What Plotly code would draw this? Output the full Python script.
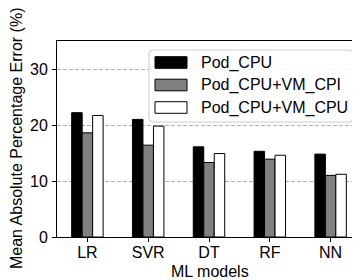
import plotly.graph_objects as go

models = ["LR", "SVR", "DT", "RF", "NN"]
series_names = ["Pod_CPU", "Pod_CPU+VM_CPI", "Pod_CPU+VM_CPU"]
pod_cpu = [22.2, 21.0, 16.1, 15.3, 14.8]
pod_cpu_vm_cpi = [18.6, 16.4, 13.3, 13.9, 11.0]
pod_cpu_vm_cpu = [21.7, 19.8, 14.9, 14.6, 11.2]
y_ticks = [0, 10, 20, 30]
colors = ["#000000", "#808080", "#ffffff"]

OFF = 8  # page body margin
W, H = 360, 280
ML, MR, MT, MB = 57 - OFF, 7, 41 - OFF, 51
PW, PH = W - ML - MR, H - MT - MB

def px(x):
    return (x - OFF - ML) / PW

def py(y):
    return (H - MB - (y - OFF)) / PH

FONT = "Arial, Liberation Sans, sans-serif"

fig = go.Figure()
for name, vals, col in zip(series_names, [pod_cpu, pod_cpu_vm_cpi, pod_cpu_vm_cpu], colors):
    fig.add_trace(go.Bar(x=models, y=vals, name=name,
                         marker=dict(color=col, line=dict(color="black", width=1)),
                         showlegend=False))

shapes = []
x0, x1, y0, y1 = px(149), px(353), py(122), py(50)
rx, ry = 4 / PW, 4 / PH
path = (f"M {x0+rx},{y0} L {x1-rx},{y0} Q {x1},{y0} {x1},{y0+ry} "
        f"L {x1},{y1-ry} Q {x1},{y1} {x1-rx},{y1} L {x0+rx},{y1} "
        f"Q {x0},{y1} {x0},{y1-ry} L {x0},{y0+ry} Q {x0},{y0} {x0+rx},{y0} Z")
shapes.append(dict(type="path", xref="paper", yref="paper", path=path,
                   fillcolor="rgba(255,255,255,0.85)", line=dict(color="#cccccc", width=1), layer="above"))
annotations = []
row_y = [62.5, 85, 107.5]
for name, col, ry_ in zip(series_names, colors, row_y):
    shapes.append(dict(type="rect", xref="paper", yref="paper",
                       x0=px(155), x1=px(187), y0=py(ry_ + 5.8), y1=py(ry_ - 5.8),
                       fillcolor=col, line=dict(color="black", width=1), layer="above"))
    annotations.append(dict(text=name, xref="paper", yref="paper", x=px(199), y=py(ry_),
                            xanchor="left", yanchor="middle", showarrow=False,
                            font=dict(size=16, color="black", family=FONT)))

annotations.append(dict(text="Mean Absolute Percentage Error (%)", xref="paper", yref="paper",
                        x=px(16.5), y=py(138.5), xanchor="center", yanchor="middle",
                        textangle=-90, showarrow=False, font=dict(size=16, color="black", family=FONT)))
annotations.append(dict(text="ML models", xref="paper", yref="paper",
                        x=px(210), y=py(271), xanchor="center", yanchor="middle",
                        showarrow=False, font=dict(size=16, color="black", family=FONT)))

fig.update_layout(
    width=W, height=H,
    margin=dict(l=ML, r=MR, t=MT, b=MB, pad=0),
    plot_bgcolor="white", paper_bgcolor="white",
    barmode="group", bargap=0.483, bargroupgap=0,
    font=dict(family=FONT, size=16, color="black"),
    shapes=shapes, annotations=annotations,
    xaxis=dict(range=[-0.5, 4.5], showline=True, linecolor="black", linewidth=1, mirror=True,
               ticks="outside", ticklen=4, tickcolor="black", showgrid=False,
               ticklabelstandoff=-3,
               tickfont=dict(size=16, color="black", family=FONT)),
    yaxis=dict(range=[0, 35], tickvals=y_ticks, showline=True, linecolor="black", linewidth=1,
               ticks="outside", ticklen=4, tickcolor="black", zeroline=False,
               showgrid=True, gridcolor="#b0b0b0", griddash="4px,2px", gridwidth=1,
               ticklabelstandoff=1,
               tickfont=dict(size=16, color="black", family=FONT)),
)

fig.write_html("out.html")
